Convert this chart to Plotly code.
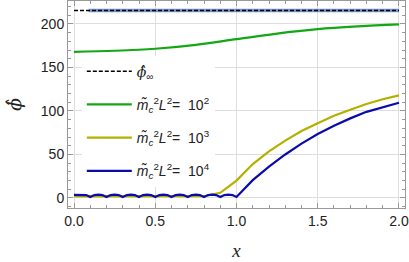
import plotly.graph_objects as go

# ---- data ----
phi_inf = 215.5
x_ref = [0.09, 2.0]

x_green = [0.0, 0.25, 0.5, 0.75, 1.0, 1.25, 1.5, 1.75, 2.0]
y_green = [168.0, 169.2, 171.5, 176.0, 182.5, 189.0, 194.0, 197.2, 199.5]

x_yellow = [0.0, 0.2, 0.4, 0.6, 0.8, 0.9, 1.0, 1.1, 1.2, 1.3, 1.4, 1.5, 1.6, 1.7, 1.8, 1.9, 2.0]
y_yellow = [1.8, 1.8, 1.8, 1.8, 2.0, 6.0, 20.0, 39.0, 53.5, 66.0, 77.0, 86.0, 94.5, 101.5, 108.0, 113.5, 118.0]

x_blue = [0.0, 0.025, 0.05, 0.075, 0.1, 0.125, 0.15, 0.175, 0.2, 0.225, 0.25, 0.275, 0.3,
          0.325, 0.35, 0.375, 0.4, 0.425, 0.45, 0.475, 0.5, 0.525, 0.55, 0.575, 0.6,
          0.625, 0.65, 0.675, 0.7, 0.725, 0.75, 0.775, 0.8, 0.825, 0.85, 0.875, 0.9,
          0.925, 0.95, 0.975, 1.0, 1.05, 1.1, 1.2, 1.3, 1.4, 1.5, 1.6, 1.7, 1.8, 1.9, 2.0]
y_blue = [3.6, 3.7, 3.8, 3.4, 1.2, 3.4, 3.8, 3.4, 1.2, 3.4, 3.8, 3.4, 1.2,
          3.4, 3.8, 3.4, 1.2, 3.4, 3.8, 3.4, 1.2, 3.4, 3.8, 3.4, 1.2,
          3.4, 3.8, 3.4, 1.2, 3.4, 3.8, 3.4, 1.2, 3.4, 3.8, 3.4, 1.2,
          3.4, 3.8, 3.4, 1.2, 11.0, 20.5, 36.0, 50.0, 62.5, 73.5, 83.0, 91.5, 99.0, 104.5, 109.5]

x_ticks = [0.0, 0.5, 1.0, 1.5, 2.0]
y_ticks = [0, 50, 100, 150, 200]

lab = "<i>m̃</i><sub><i>c</i></sub><sup>2</sup><i>L</i><sup>2</sup>=  10<sup>%s</sup>"
phi_lab = "<span style='font-family:DejaVu Serif'><i>ϕ̂</i></span><sub>∞</sub>"

fig = go.Figure()
fig.add_trace(go.Scatter(x=x_ref, y=[phi_inf, phi_inf], mode="lines",
                         line=dict(color="#7695cc", width=3.5), showlegend=False,
                         hoverinfo="skip"))
fig.add_trace(go.Scatter(x=[x_green[0], x_green[-1]], y=[phi_inf, phi_inf], mode="lines",
                         line=dict(color="black", width=1.6, dash="4px,2px"),
                         name=phi_lab, legendgroup="a"))
fig.add_trace(go.Scatter(x=x_green, y=y_green, mode="lines",
                         line=dict(color="#13a813", width=2.2, shape="spline"),
                         name=lab % "2", legendgroup="b"))
fig.add_trace(go.Scatter(x=x_yellow, y=y_yellow, mode="lines",
                         line=dict(color="#b3b000", width=2.2),
                         name=lab % "3", legendgroup="c"))
fig.add_trace(go.Scatter(x=x_blue, y=y_blue, mode="lines",
                         line=dict(color="#0b0bab", width=2.2),
                         name=lab % "4", legendgroup="d"))

axis_common = dict(
    showline=True, linecolor="#999999", linewidth=1, mirror="allticks",
    ticks="inside", ticklen=5, tickcolor="#999999", tickwidth=1,
    showgrid=True, gridcolor="#dedede", gridwidth=1, zeroline=False,
    automargin=False,
    tickfont=dict(family="Liberation Sans, Arial", size=14, color="#222222"),
)

fig.update_xaxes(range=[-0.037, 2.037], tickvals=x_ticks,
                 ticktext=["%.1f" % v for v in x_ticks],
                 minor=dict(dtick=0.1, ticks="inside", ticklen=3, tickcolor="#999999", showgrid=False),
                 title=dict(text="<i>x</i>", font=dict(family="Liberation Serif, Times New Roman", size=19, color="#222222"), standoff=15),
                 **axis_common)
fig.update_yaxes(range=[-11.5, 226.4], tickvals=y_ticks,
                 minor=dict(dtick=10, ticks="inside", ticklen=3, tickcolor="#999999", showgrid=False),
                 title=dict(text="<i>ϕ̂</i>", font=dict(family="DejaVu Serif", size=19, color="#222222"), standoff=14),
                 **axis_common)

fig.update_layout(
    width=409, height=262,
    margin=dict(l=68, r=4, t=1, b=54),
    paper_bgcolor="white", plot_bgcolor="white",
    showlegend=True,
    legend=dict(x=0.041, xanchor="left", y=0.736, yanchor="top",
                bgcolor="white", borderwidth=0, tracegroupgap=12,
                itemwidth=45,
                font=dict(family="Liberation Sans, Arial", size=14, color="#222222")),
)

fig.write_html("out.html", config={"displayModeBar": False},
               post_script="document.body.style.margin='0';document.body.style.padding='0';")
